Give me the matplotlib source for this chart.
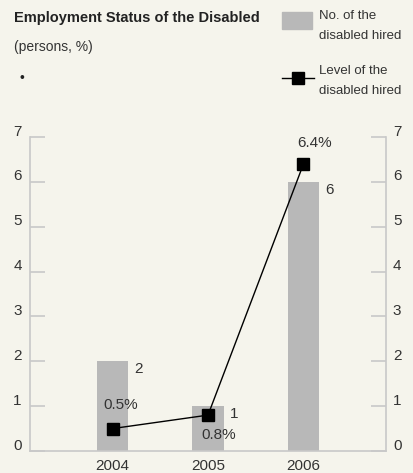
import matplotlib.pyplot as plt
import matplotlib.transforms as mtransforms

years = ["2004", "2005", "2006"]
hired = [2, 1, 6]
level = [0.5, 0.8, 6.4]
level_labels = ["0.5%", "0.8%", "6.4%"]
yticks = [0, 1, 2, 3, 4, 5, 6, 7]

plt.rcParams["font.family"] = ["Liberation Sans", "DejaVu Sans"]

bg = "#f5f4ec"
spine_c = "#c8c8c8"
bar_c = "#b8b8b8"
txt = "#333333"

fig = plt.figure(figsize=(4.13, 4.73), dpi=100, facecolor=bg)
ax = fig.add_axes([30 / 413, 1 - 451 / 473, 356 / 413, 314 / 473], facecolor=bg)

x = list(range(len(years)))
ax.bar(x, hired, width=0.33, color=bar_c, zorder=1)
for xi, v in zip(x, hired):
    ax.text(xi + 0.27, v - 0.18, str(v), ha="center", va="center", fontsize=11, color=txt)

ax.plot(x, level, color="black", lw=1, marker="s", markersize=8.5, zorder=3)
offsets = [(6, 17), (8, -14), (8, 15)]
for xi, v, lab, off in zip(x, level, level_labels, offsets):
    ax.annotate(lab, (xi, v), xytext=off, textcoords="offset points",
                ha="center", va="center", fontsize=11, color=txt)

ax.set_xlim(-0.864, 2.864)
ax.set_ylim(0, 7)
ax.set_xticks(x)
ax.set_xticklabels(years)
ax.set_yticks(yticks)
for s in ["top", "right"]:
    ax.spines[s].set_visible(False)
for s in ["left", "bottom"]:
    ax.spines[s].set_color(spine_c)
    ax.spines[s].set_linewidth(1.2)
ax.tick_params(axis="y", direction="in", length=11, color=spine_c, width=1.2,
               labelsize=11, labelcolor=txt, pad=6)
ax.tick_params(axis="x", length=0, labelsize=11, labelcolor=txt, pad=5.5)

ax2 = ax.twinx()
ax2.set_ylim(0, 7)
ax2.set_yticks(yticks)
for s in ["top", "left", "bottom"]:
    ax2.spines[s].set_visible(False)
ax2.spines["right"].set_color(spine_c)
ax2.spines["right"].set_linewidth(1.2)
ax2.tick_params(axis="y", direction="in", length=11, color=spine_c, width=1.2,
                labelsize=11, labelcolor=txt, pad=5)

# tick labels sit a little above their tick marks
shift = mtransforms.ScaledTranslation(0, 5 / 72, fig.dpi_scale_trans)
for lab in ax.get_yticklabels() + ax2.get_yticklabels():
    lab.set_transform(lab.get_transform() + shift)

fig.text(14 / 413, 1 - 18 / 473, "Employment Status of the Disabled", fontsize=10.5,
         fontweight="bold", color="#222222", va="center")
fig.text(14 / 413, 1 - 47 / 473, "(persons, %)", fontsize=10, color=txt, va="center")
fig.text(22 / 413, 1 - 78 / 473, "•", fontsize=10, color="#222222", va="center", ha="center")

# legend
fig.patches.append(plt.Rectangle((282 / 413, 1 - 29 / 473), 30 / 413, 17 / 473,
                                 transform=fig.transFigure, color=bar_c))
fig.text(319 / 413, 1 - 10 / 473, "No. of the\ndisabled hired", fontsize=9.5,
         color=txt, va="top", linespacing=1.9)
fig.lines.append(plt.Line2D([282 / 413, 314 / 413], [1 - 78 / 473] * 2,
                            transform=fig.transFigure, color="black", lw=1))
fig.lines.append(plt.Line2D([298 / 413], [1 - 78 / 473], transform=fig.transFigure,
                            color="black", marker="s", markersize=8))
fig.text(319 / 413, 1 - 65 / 473, "Level of the\ndisabled hired", fontsize=9.5,
         color=txt, va="top", linespacing=1.9)

fig.savefig("out.png", dpi=100, facecolor=bg)
